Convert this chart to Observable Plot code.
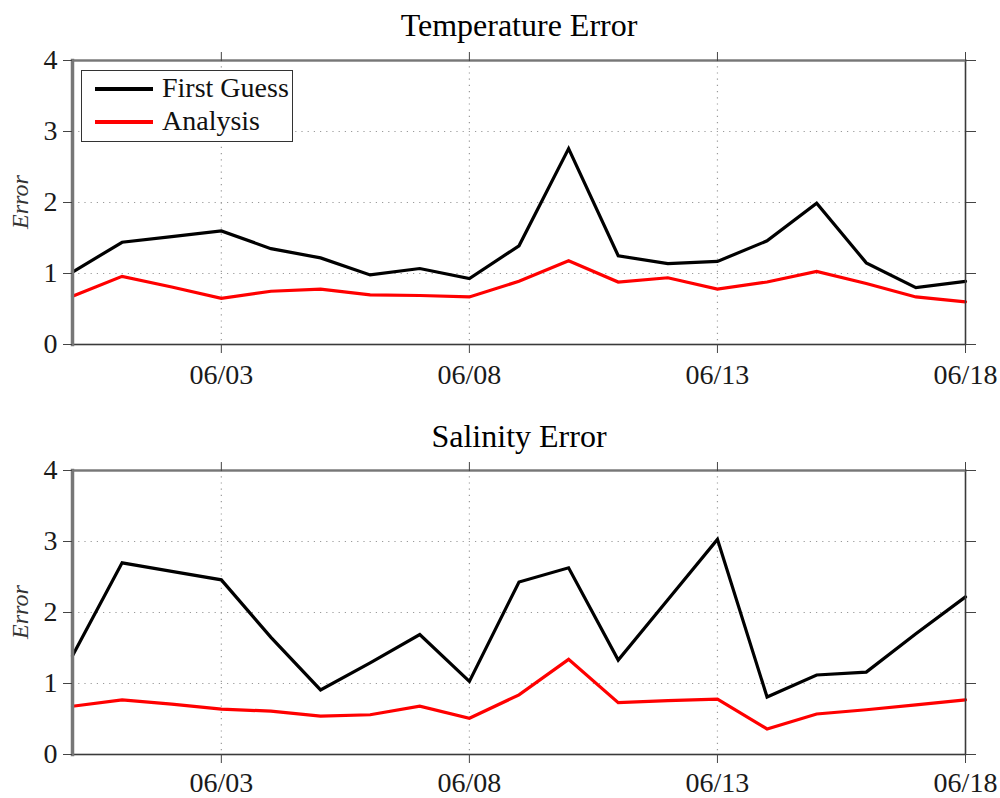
<!DOCTYPE html>
<html>
<head>
<meta charset="utf-8">
<script src="https://cdn.jsdelivr.net/npm/d3@7"></script>
<script src="https://cdn.jsdelivr.net/npm/@observablehq/plot@0.6"></script>
<style>
  body { margin: 0; background: #fff; }
  #wrap { position: relative; width: 1000px; height: 798px; background: #fff; overflow: hidden; }
  #wrap svg { display: block; }
  .legend { position: absolute; left: 81px; top: 70px; width: 212px; height: 72px; box-sizing: border-box;
            border: 1.5px solid #333; background: #fff; font-family: "Liberation Serif", serif; font-size: 28px; color: #111; }
  .legend .sw { position: absolute; left: 13px; width: 58px; height: 3.5px; }
  .legend .lb { position: absolute; left: 80px; line-height: 28px; white-space: nowrap; }
  .ylab { position: absolute; font-family: "Liberation Serif", serif; font-style: italic; font-size: 24px; color: #333;
          width: 100px; height: 24px; line-height: 24px; text-align: center; transform: rotate(-90deg); }
</style>
</head>
<body>
<div id="wrap"></div>
<script>
// ---- data ----
const days = ["2011-05-31","2011-06-01","2011-06-02","2011-06-03","2011-06-04","2011-06-05","2011-06-06",
  "2011-06-07","2011-06-08","2011-06-09","2011-06-10","2011-06-11","2011-06-12","2011-06-13",
  "2011-06-14","2011-06-15","2011-06-16","2011-06-17","2011-06-18"];
const tempFirstGuess = [1.02,1.44,1.52,1.60,1.35,1.22,0.98,1.07,0.93,1.39,2.76,1.25,1.14,1.17,1.46,1.99,1.15,0.80,0.89];
const tempAnalysis   = [0.68,0.96,0.81,0.65,0.75,0.78,0.70,0.69,0.67,0.89,1.18,0.88,0.94,0.78,0.88,1.03,0.86,0.67,0.60];
const salFirstGuess  = [1.39,2.70,2.58,2.46,1.65,0.91,1.29,1.69,1.03,2.43,2.63,1.33,2.18,3.03,0.81,1.12,1.16,1.70,2.22];
const salAnalysis    = [0.68,0.77,0.71,0.64,0.61,0.54,0.56,0.68,0.51,0.84,1.34,0.73,0.76,0.78,0.36,0.57,0.63,0.70,0.77];
const xTickDates = ["2011-06-03","2011-06-08","2011-06-13","2011-06-18"];
const yTicks = [0,1,2,3,4];
const seriesNames = ["First Guess","Analysis"];
const seriesColors = ["#000000","#ff0000"];
const titles = ["Temperature Error","Salinity Error"];
const yLabel = "Error";

const parse = d3.utcParse("%Y-%m-%d");
const dates = days.map(parse);
const tickDates = xTickDates.map(parse);
const fmt = d3.utcFormat("%m/%d");

function rows(fg, an) {
  const out = [];
  dates.forEach((d, i) => out.push({date: d, value: fg[i], series: seriesNames[0]}));
  dates.forEach((d, i) => out.push({date: d, value: an[i], series: seriesNames[1]}));
  return out;
}

function panel(title, fg, an, marginTop, marginBottom, titleDy, xPad) {
  const data = rows(fg, an);
  return Plot.plot({
    width: 1000,
    height: 399,
    marginLeft: 72,
    marginRight: 35,
    marginTop,
    marginBottom,
    style: {fontFamily: "'Liberation Serif', serif", fontSize: "28px", color: "#1a1a1a", background: "#fff", overflow: "visible"},
    x: {type: "utc", domain: [dates[0], dates[dates.length - 1]]},
    y: {domain: [0, 4]},
    color: {domain: seriesNames, range: seriesColors},
    marks: [
      Plot.gridY([1, 2, 3], {stroke: "#9a9a9a", strokeOpacity: 1, strokeWidth: 1.2, strokeDasharray: "1.2,5"}),
      Plot.gridX(tickDates.slice(0, 3), {stroke: "#9a9a9a", strokeOpacity: 1, strokeWidth: 1.2, strokeDasharray: "1.2,5"}),
      Plot.line(data, {x: "date", y: "value", z: "series", stroke: "series", strokeWidth: 3.2, strokeLinejoin: "miter", strokeMiterlimit: 4}),
      Plot.frame({stroke: "#3a3a3a", strokeWidth: 1.6}),
      Plot.frame({anchor: "left", stroke: "#777", strokeWidth: 3.5}),
      Plot.frame({anchor: "top", stroke: "#777", strokeWidth: 2.2}),
      Plot.axisX(tickDates, {anchor: "bottom", tickSize: 9, tickPadding: xPad, tickFormat: fmt, label: null, stroke: "#444"}),
      Plot.axisX(tickDates, {anchor: "top", tickSize: 9, tickFormat: () => "", label: null, stroke: "#444"}),
      Plot.axisY(yTicks, {anchor: "left", tickSize: 9, tickPadding: 6, tickFormat: d3.format("d"), label: null, stroke: "#444"}),
      Plot.axisY(yTicks, {anchor: "right", tickSize: 10, tickFormat: () => "", label: null, stroke: "#444"}),
      Plot.text([title], {text: d => d, frameAnchor: "top", lineAnchor: "bottom", dy: titleDy, fontSize: 32, fill: "#000"})
    ]
  });
}

const wrap = document.getElementById("wrap");
wrap.appendChild(panel(titles[0], tempFirstGuess, tempAnalysis, 60, 55, -25, 11));
wrap.appendChild(panel(titles[1], salFirstGuess, salAnalysis, 71, 44, -24, 9));

// y-axis labels (one per panel), centred on each plot area
[202, 612].forEach(cy => {
  const yl = document.createElement("div");
  yl.className = "ylab";
  yl.textContent = yLabel;
  yl.style.left = (20 - 50) + "px";
  yl.style.top = (cy - 12) + "px";
  wrap.appendChild(yl);
});

// legend (top panel)
const lg = document.createElement("div");
lg.className = "legend";
const rowTops = [3, 36];
const lineTops = [16, 49];
seriesNames.forEach((name, i) => {
  const sw = document.createElement("div");
  sw.className = "sw";
  sw.style.top = lineTops[i] + "px";
  sw.style.background = seriesColors[i];
  const lb = document.createElement("div");
  lb.className = "lb";
  lb.style.top = rowTops[i] + "px";
  lb.textContent = name;
  lg.appendChild(sw);
  lg.appendChild(lb);
});
wrap.appendChild(lg);
</script>
</body>
</html>
